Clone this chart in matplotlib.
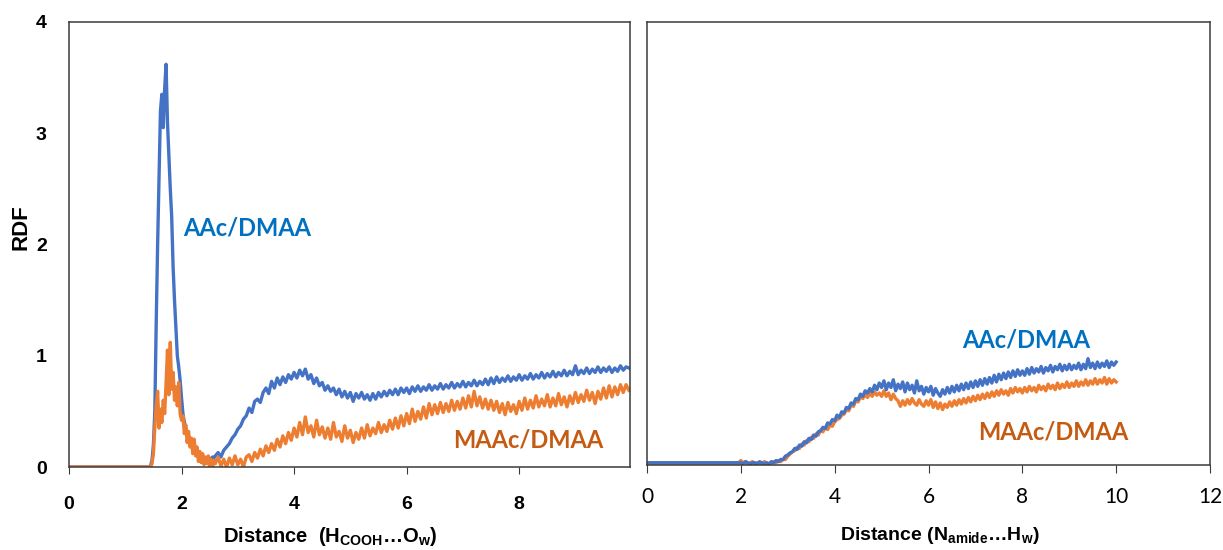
import numpy as np
import matplotlib
matplotlib.use("Agg")
import matplotlib.pyplot as plt

plt.rcParams["font.family"] = "Liberation Sans"
plt.rcParams["mathtext.fontset"] = "custom"
plt.rcParams["mathtext.bf"] = "Liberation Sans:bold"
plt.rcParams["mathtext.rm"] = "Liberation Sans"

BLUE = "#4472C4"
ORANGE = "#ED7D31"
BLUE_TXT = "#0070C0"
ORANGE_TXT = "#C55A11"

# ---- H(COOH)...O(w) RDF ----
# zero stretch, fine grid over the first peak (dx=0.025), then dx=0.05
cooh_flat_x = [0.0, 1.40]
cooh_fine_x0, cooh_fine_dx = 1.425, 0.025
cooh_coarse_x0, cooh_coarse_dx = 2.60, 0.05

aac_cooh_fine = [
    0.00, 0.01, 0.06, 0.20, 0.50, 1.30, 2.00, 2.60, 3.20, 3.35,
    3.05, 3.40, 3.62, 3.10, 2.80, 2.50, 2.25, 1.80, 1.50, 1.25,
    1.00, 0.90, 0.78, 0.62, 0.48, 0.40, 0.35, 0.30, 0.27, 0.24,
    0.20, 0.16, 0.14, 0.12, 0.11, 0.10, 0.09, 0.08, 0.07, 0.08,
    0.06, 0.07, 0.05, 0.08, 0.06, 0.09, 0.08,
]
aac_cooh_coarse = [
    0.10, 0.13, 0.09, 0.15, 0.18, 0.21, 0.26, 0.29, 0.34, 0.37, 0.43, 0.46, 0.53, 0.49, 0.59, 0.61, 0.58, 0.67, 0.71, 0.66,
    0.77, 0.71, 0.80, 0.74, 0.81, 0.76, 0.83, 0.79, 0.85, 0.80, 0.87, 0.82, 0.88, 0.79, 0.83, 0.75, 0.80, 0.73, 0.76, 0.69,
    0.73, 0.68, 0.71, 0.65, 0.70, 0.63, 0.68, 0.62, 0.67, 0.59, 0.66, 0.62, 0.67, 0.61, 0.65, 0.60, 0.66, 0.61, 0.67, 0.63,
    0.68, 0.64, 0.69, 0.65, 0.70, 0.65, 0.71, 0.67, 0.71, 0.66, 0.72, 0.68, 0.73, 0.68, 0.72, 0.69, 0.74, 0.69, 0.73, 0.70,
    0.75, 0.70, 0.74, 0.71, 0.76, 0.71, 0.75, 0.72, 0.77, 0.72, 0.76, 0.73, 0.78, 0.73, 0.77, 0.74, 0.79, 0.74, 0.80, 0.75,
    0.81, 0.76, 0.80, 0.77, 0.82, 0.77, 0.81, 0.78, 0.83, 0.78, 0.82, 0.79, 0.84, 0.79, 0.83, 0.80, 0.85, 0.80, 0.84, 0.81,
    0.86, 0.81, 0.85, 0.82, 0.87, 0.82, 0.86, 0.83, 0.91, 0.83, 0.87, 0.84, 0.89, 0.84, 0.88, 0.85, 0.90, 0.85, 0.89, 0.86,
    0.90, 0.85, 0.89, 0.86, 0.91, 0.87, 0.90, 0.89,
]
maac_cooh_fine = [
    0.00, 0.00, 0.03, 0.12, 0.35, 0.55, 0.68, 0.35, 0.52, 0.40,
    0.60, 0.48, 0.75, 1.05, 0.65, 1.12, 0.70, 0.85, 0.60, 0.72,
    0.55, 0.76, 0.48, 0.42, 0.46, 0.30, 0.38, 0.22, 0.32, 0.18,
    0.26, 0.12, 0.25, 0.10, 0.18, 0.05, 0.14, 0.04, 0.12, 0.02,
    0.09, 0.03, 0.10, 0.01, 0.07, 0.00, 0.06,
]
maac_cooh_coarse = [
    0.03, 0.09, 0.01, 0.07, 0.00, 0.08, 0.02, 0.10, 0.02, 0.07, 0.00, 0.09, 0.11, 0.05, 0.13, 0.08, 0.16, 0.10, 0.19, 0.13,
    0.21, 0.15, 0.25, 0.18, 0.28, 0.21, 0.31, 0.24, 0.35, 0.27, 0.40, 0.29, 0.45, 0.31, 0.37, 0.27, 0.42, 0.29, 0.36, 0.26,
    0.35, 0.25, 0.40, 0.27, 0.32, 0.23, 0.37, 0.26, 0.33, 0.22, 0.31, 0.25, 0.35, 0.26, 0.38, 0.28, 0.35, 0.30, 0.40, 0.31,
    0.38, 0.32, 0.42, 0.34, 0.44, 0.35, 0.46, 0.37, 0.48, 0.39, 0.52, 0.41, 0.50, 0.43, 0.54, 0.44, 0.57, 0.47, 0.56, 0.48,
    0.58, 0.49, 0.57, 0.50, 0.60, 0.51, 0.59, 0.52, 0.62, 0.53, 0.64, 0.54, 0.68, 0.55, 0.63, 0.53, 0.61, 0.52, 0.60, 0.51,
    0.59, 0.49, 0.57, 0.47, 0.58, 0.50, 0.56, 0.48, 0.59, 0.51, 0.62, 0.52, 0.60, 0.53, 0.64, 0.54, 0.61, 0.55, 0.65, 0.54,
    0.62, 0.55, 0.66, 0.56, 0.63, 0.54, 0.64, 0.57, 0.67, 0.58, 0.65, 0.59, 0.69, 0.60, 0.67, 0.57, 0.68, 0.61, 0.71, 0.62,
    0.73, 0.63, 0.72, 0.65, 0.74, 0.67, 0.74, 0.69,
]

# ---- N(amide)...H(w) RDF ----
amide_flat_x = [0.0, 1.95]
amide_x0, amide_dx = 2.00, 0.05

aac_amide = [
    0.02, 0.01, 0.03, 0.02, 0.01, 0.02, 0.02, 0.01, 0.03, 0.02, 0.01, 0.02, 0.01, 0.03, 0.02, 0.04, 0.03, 0.05, 0.05, 0.08,
    0.09, 0.11, 0.12, 0.15, 0.14, 0.18, 0.17, 0.21, 0.20, 0.24, 0.23, 0.27, 0.26, 0.30, 0.31, 0.34, 0.33, 0.38, 0.37, 0.41,
    0.40, 0.45, 0.43, 0.48, 0.47, 0.52, 0.51, 0.56, 0.55, 0.60, 0.59, 0.64, 0.62, 0.67, 0.65, 0.69, 0.66, 0.72, 0.68, 0.74,
    0.70, 0.76, 0.68, 0.74, 0.70, 0.77, 0.67, 0.73, 0.69, 0.75, 0.66, 0.74, 0.68, 0.72, 0.65, 0.76, 0.67, 0.71, 0.64, 0.70,
    0.66, 0.71, 0.63, 0.69, 0.65, 0.62, 0.68, 0.64, 0.70, 0.65, 0.71, 0.66, 0.72, 0.67, 0.73, 0.68, 0.74, 0.69, 0.75, 0.70,
    0.76, 0.71, 0.77, 0.72, 0.78, 0.73, 0.79, 0.74, 0.81, 0.75, 0.82, 0.77, 0.83, 0.78, 0.84, 0.79, 0.85, 0.80, 0.86, 0.81,
    0.85, 0.81, 0.87, 0.82, 0.88, 0.83, 0.87, 0.84, 0.89, 0.83, 0.88, 0.85, 0.90, 0.84, 0.89, 0.86, 0.91, 0.85, 0.90, 0.86,
    0.91, 0.86, 0.90, 0.87, 0.92, 0.86, 0.91, 0.87, 0.96, 0.88, 0.92, 0.87, 0.93, 0.88, 0.92, 0.89, 0.94, 0.88, 0.93, 0.90,
    0.93,
]
maac_amide = [
    0.04, 0.02, 0.03, 0.01, 0.02, 0.03, 0.01, 0.02, 0.02, 0.01, 0.03, 0.02, 0.01, 0.02, 0.03, 0.02, 0.04, 0.03, 0.05, 0.05,
    0.08, 0.10, 0.12, 0.13, 0.16, 0.15, 0.19, 0.18, 0.22, 0.21, 0.25, 0.24, 0.28, 0.27, 0.31, 0.30, 0.34, 0.32, 0.36, 0.35,
    0.39, 0.41, 0.42, 0.45, 0.46, 0.50, 0.49, 0.54, 0.53, 0.58, 0.57, 0.62, 0.60, 0.64, 0.61, 0.65, 0.62, 0.66, 0.63, 0.65,
    0.62, 0.67, 0.62, 0.65, 0.59, 0.64, 0.60, 0.58, 0.53, 0.58, 0.54, 0.59, 0.55, 0.60, 0.56, 0.54, 0.59, 0.55, 0.53, 0.58,
    0.54, 0.59, 0.52, 0.57, 0.51, 0.56, 0.50, 0.55, 0.52, 0.57, 0.53, 0.58, 0.54, 0.59, 0.55, 0.60, 0.56, 0.61, 0.57, 0.62,
    0.58, 0.63, 0.59, 0.64, 0.60, 0.65, 0.61, 0.66, 0.62, 0.67, 0.63, 0.68, 0.64, 0.67, 0.63, 0.69, 0.65, 0.70, 0.66, 0.69,
    0.65, 0.70, 0.66, 0.71, 0.67, 0.70, 0.66, 0.72, 0.68, 0.71, 0.67, 0.73, 0.69, 0.72, 0.68, 0.74, 0.69, 0.73, 0.70, 0.75,
    0.70, 0.74, 0.71, 0.76, 0.71, 0.75, 0.72, 0.77, 0.72, 0.76, 0.73, 0.78, 0.73, 0.77, 0.74, 0.79, 0.73, 0.78, 0.74, 0.77,
    0.75,
]


def build(flat_x, flat_y, parts):
    xs, ys = [np.array(flat_x)], [np.full(len(flat_x), flat_y)]
    for x0, dx, vals in parts:
        xs.append(x0 + dx * np.arange(len(vals)))
        ys.append(np.array(vals))
    return np.concatenate(xs), np.concatenate(ys)


x_aac1, y_aac1 = build(cooh_flat_x, 0.0, [(cooh_fine_x0, cooh_fine_dx, aac_cooh_fine),
                                          (cooh_coarse_x0, cooh_coarse_dx, aac_cooh_coarse)])
x_maac1, y_maac1 = build(cooh_flat_x, 0.0, [(cooh_fine_x0, cooh_fine_dx, maac_cooh_fine),
                                            (cooh_coarse_x0, cooh_coarse_dx, maac_cooh_coarse)])
x_aac2, y_aac2 = build(amide_flat_x, 0.02, [(amide_x0, amide_dx, aac_amide)])
x_maac2, y_maac2 = build(amide_flat_x, 0.02, [(amide_x0, amide_dx, maac_amide)])

fig = plt.figure(figsize=(12.23, 5.5), dpi=100)
W, H = 1223, 550
ax1 = fig.add_axes([69 / W, (H - 467) / H, (630 - 69) / W, (467 - 22) / H])
ax2 = fig.add_axes([647 / W, (H - 465) / H, (1210 - 647) / W, (465 - 22) / H])

lw = 2.4
ax1.plot(x_aac1, y_aac1, color=BLUE, lw=lw)
ax1.plot(x_maac1, y_maac1, color=ORANGE, lw=lw)
ax2.plot(x_maac2, y_maac2, color=ORANGE, lw=lw)
ax2.plot(x_aac2, y_aac2, color=BLUE, lw=lw)

for ax in (ax1, ax2):
    ax.set_ylim(0, 4)
    for s in ax.spines.values():
        s.set_color("#3a3a3a")
        s.set_linewidth(1.1)

ax1.set_xlim(0, 9.97)
ax1.set_xticks([0, 2, 4, 6, 8])
ax1.set_yticks([0, 1, 2, 3, 4])
ax1.tick_params(axis="x", direction="out", length=5, pad=16, labelsize=14, color="#3a3a3a")
ax1.tick_params(axis="y", length=0, pad=16, labelsize=14)
for lab in ax1.get_xticklabels() + ax1.get_yticklabels():
    lab.set_fontweight("bold")
ax1.set_ylabel("RDF", fontsize=16, fontweight="bold")
ax1.yaxis.set_label_coords(-0.066, 0.54)
ax1.set_xlabel(r"Distance  (H$_{\mathbf{COOH}}$…O$_{\mathbf{w}}$)", fontsize=14.5, fontweight="bold")
ax1.xaxis.set_label_coords(0.465, -0.13)

ax2.set_xlim(0, 12)
ax2.set_xticks(range(0, 13, 2))
ax2.set_yticks([])
ax2.tick_params(axis="x", direction="out", length=6, pad=10, labelsize=15, color="#3a3a3a")
for lab in ax2.get_xticklabels():
    lab.set_fontfamily("Lato")
ax2.set_xlabel(r"Distance (N$_{\mathbf{amide}}$…H$_{\mathbf{w}}$)", fontsize=14, fontweight="bold")
ax2.xaxis.set_label_coords(0.52, -0.135)

tkw = dict(fontfamily="Lato", fontweight="bold", fontsize=17, va="center", ha="left")
ax1.text(2.03, 2.15, "AAc/DMAA", color=BLUE_TXT, **tkw)
ax1.text(6.83, 0.24, "MAAc/DMAA", color=ORANGE_TXT, **tkw)
ax2.text(6.72, 1.13, "AAc/DMAA", color=BLUE_TXT, **tkw)
ax2.text(7.06, 0.30, "MAAc/DMAA", color=ORANGE_TXT, **tkw)

fig.savefig("out.png", dpi=100)
